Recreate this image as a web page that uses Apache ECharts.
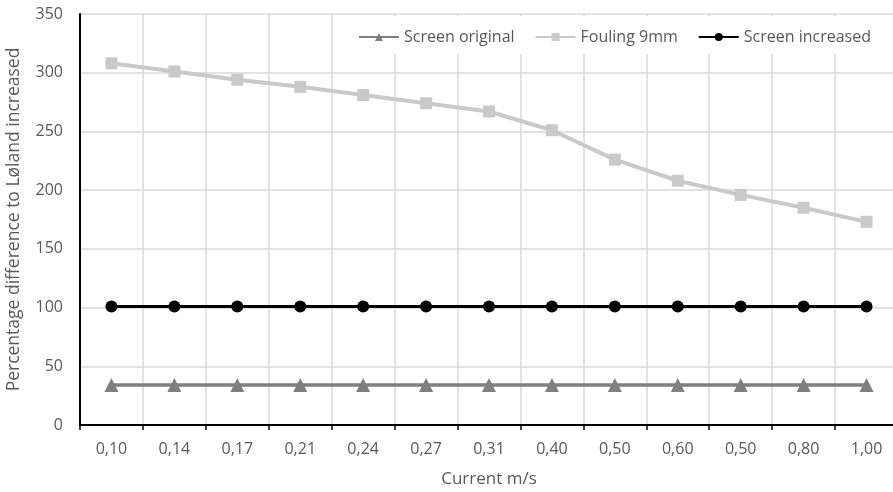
<!DOCTYPE html>
<html><head><meta charset="utf-8">
<script src="https://cdn.jsdelivr.net/npm/echarts@6/dist/echarts.min.js"></script>
<style>html,body{margin:0;padding:0;background:#fff}#c{width:893px;height:492px}</style>
</head><body><div id="c"></div>
<script>
const categories = ['0,10','0,14','0,17','0,21','0,24','0,27','0,31','0,40','0,50','0,60','0,50','0,80','1,00'];
const screenOriginal = [34,34,34,34,34,34,34,34,34,34,34,34,34];
const fouling9mm = [308,301,294,288,281,274,267,251,226,208,196,185,173];
const screenIncreased = [101,101,101,101,101,101,101,101,101,101,101,101,101];
const yTicks = {min:0, max:350, interval:50};

const font = 'Open Sans';
const txt = '#595959';
const chart = echarts.init(document.getElementById('c'), null, {renderer:'canvas'});
chart.setOption({
  animation:false,
  backgroundColor:'#fff',
  textStyle:{fontFamily:font},
  grid:{left:80, top:14, width:818, bottom:67, containLabel:false, outerBoundsMode:'none'},
  legend:{
    right:0, top:16, padding:[13,22,9,20], backgroundColor:'#fff',
    itemWidth:40, itemHeight:10, itemGap:20,
    textStyle:{color:txt, fontSize:16, fontFamily:font},
    data:['Screen original','Fouling 9mm','Screen increased']
  },
  xAxis:{
    type:'category', data:categories, boundaryGap:true,
    name:'Current m/s', nameLocation:'middle', nameGap:46,
    nameTextStyle:{color:txt, fontSize:17, fontFamily:font},
    axisLine:{lineStyle:{color:'#000', width:2}},
    axisTick:{show:true, length:5, lineStyle:{color:'#000', width:1.5}},
    axisLabel:{color:txt, fontSize:16, margin:16, fontFamily:font},
    splitLine:{show:true, lineStyle:{color:'#d9d9d9', width:1.5}}
  },
  yAxis:{
    type:'value', min:yTicks.min, max:yTicks.max, interval:yTicks.interval,
    name:'Percentage difference to Løland increased', nameLocation:'middle', nameGap:57,
    nameTextStyle:{color:txt, fontSize:17.5, fontFamily:font},
    axisLine:{show:true, lineStyle:{color:'#000', width:2}},
    axisTick:{show:false},
    axisLabel:{color:txt, fontSize:16, margin:17, fontFamily:font},
    splitLine:{show:true, lineStyle:{color:'#d9d9d9', width:1.5}}
  },
  series:[
    {name:'Screen original', type:'line', data:screenOriginal, symbol:'triangle', symbolSize:14,
     lineStyle:{color:'#7f7f7f', width:3.5}, itemStyle:{color:'#7f7f7f'}},
    {name:'Fouling 9mm', type:'line', data:fouling9mm, symbol:'rect', symbolSize:12,
     lineStyle:{color:'#c9c9c9', width:4}, itemStyle:{color:'#c9c9c9'}},
    {name:'Screen increased', type:'line', data:screenIncreased, symbol:'circle', symbolSize:12,
     lineStyle:{color:'#000', width:3}, itemStyle:{color:'#000'}}
  ]
});
</script></body></html>
